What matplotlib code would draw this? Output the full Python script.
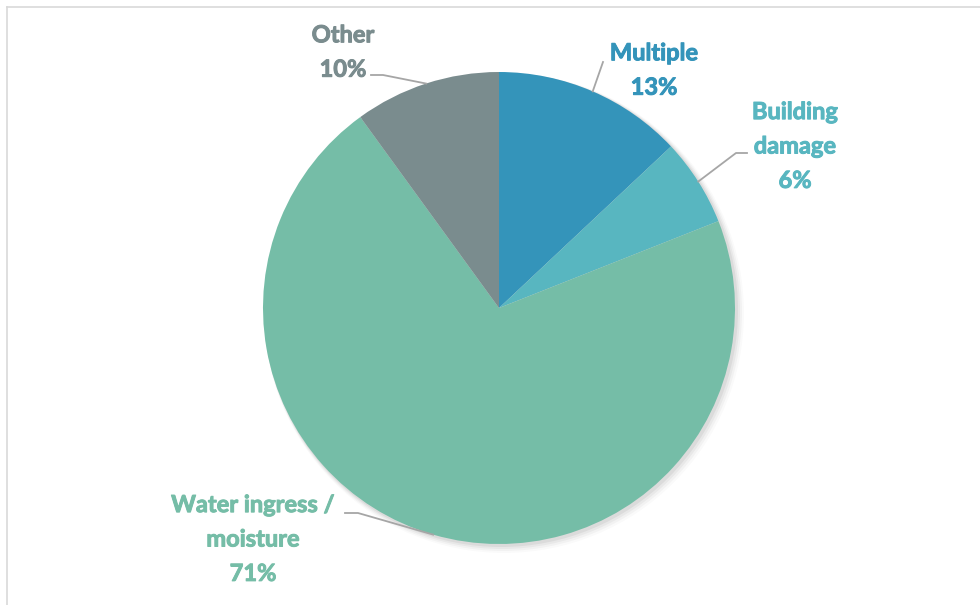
import matplotlib
matplotlib.use("Agg")
import matplotlib.pyplot as plt
import matplotlib.patheffects as pe
import numpy as np
from matplotlib.lines import Line2D
from matplotlib.patches import Circle

categories = ["Multiple", "Building\ndamage", "Water ingress /\nmoisture", "Other"]
values = [13, 6, 71, 10]
pct_labels = ["13%", "6%", "71%", "10%"]

colors = ["#3494BA", "#58B6C0", "#75BDA7", "#7A8C8E"]
text_colors = ["#3494BA", "#58B6C0", "#75BDA7", "#7A8C8E"]

W, H = 980, 605
fig = plt.figure(figsize=(W / 100, H / 100), dpi=100)
ax = fig.add_axes([0, 0, 1, 1])

cx, cy, r = 499, H - 308, 236

# soft shadow
for i, a in enumerate([0.05, 0.04, 0.03, 0.02]):
    ax.add_patch(Circle((cx + 2 + i, cy - 2 - i), r + 1 + i, color="black", alpha=a, lw=0, zorder=0))

wedges, _ = ax.pie(values, colors=colors, startangle=90, counterclock=False,
                   center=(cx, cy), radius=r, frame=True,
                   wedgeprops=dict(linewidth=0, zorder=1))
ax.set_xlim(0, W)
ax.set_ylim(0, H)
ax.set_aspect("equal")
ax.axis("off")

# label layout (pixel positions of text block centres and leader elbows)
label_pos = [(654, 70), (795, 146), (253, 539), (343, 52)]
elbows = [[(603, 62)], [(747, 153), (736, 153)], [(345, 513), (358, 513)], [(371, 75), (383, 75)]]

for w, cat, pct, tc, (lx, ly), elb in zip(wedges, categories, pct_labels, text_colors, label_pos, elbows):
    ang = np.deg2rad((w.theta1 + w.theta2) / 2)
    ex, ey = cx + r * np.cos(ang), cy + r * np.sin(ang)
    pts = [(x, H - y) for x, y in elb] + [(ex, ey)]
    xs, ys = zip(*pts)
    ax.add_line(Line2D(xs, ys, color="#A6A6A6", lw=1.3, zorder=3))
    ax.text(lx, H - ly, cat + "\n" + pct, ha="center", va="center", color=tc,
            fontsize=17, fontweight="bold", family=["Lato", "DejaVu Sans"],
            linespacing=1.6, zorder=4,
            path_effects=[pe.withStroke(linewidth=0.7, foreground=tc)])

# chart border (top and left visible)
ax.add_line(Line2D([6.5, W], [H - 6.5, H - 6.5], color="#D9D9D9", lw=1.2))
ax.add_line(Line2D([6.5, 6.5], [0, H - 6.5], color="#D9D9D9", lw=1.2))

fig.savefig("out.png", dpi=100, facecolor="white")
